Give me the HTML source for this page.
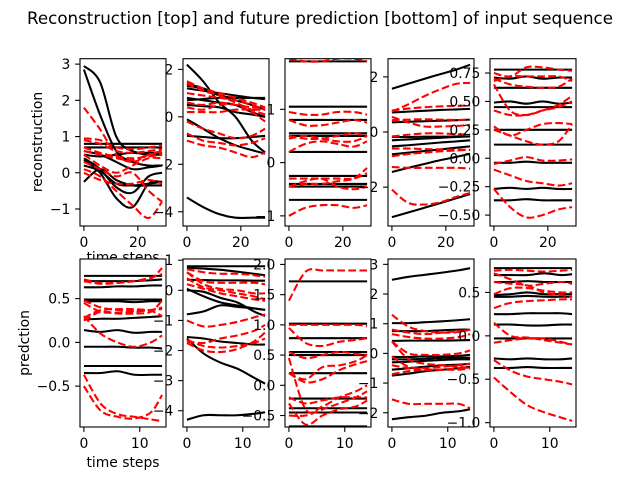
<!DOCTYPE html>
<html><head><meta charset="utf-8"><style>
body{margin:0;background:#fff}
svg{display:block;font-family:"DejaVu Sans","Liberation Sans",sans-serif}
</style></head><body>
<svg id="fig" width="640" height="480" viewBox="0 0 640 480" xmlns="http://www.w3.org/2000/svg">
<rect width="640" height="480" fill="#fff"/>
<text x="320" y="24" text-anchor="middle" font-size="16.7">Reconstruction [top] and future prediction [bottom] of input sequence</text>
<text transform="translate(42,142) rotate(-90)" text-anchor="middle" font-size="13.9">reconstruction</text>
<text transform="translate(29,343) rotate(-90)" text-anchor="middle" font-size="13.9">predction</text>
<text x="123" y="262" text-anchor="middle" font-size="13.9">time steps</text>
<text x="123" y="467" text-anchor="middle" font-size="13.9">time steps</text>
</svg>
<script>
const topSteps = [0, 6, 12, 18, 24, 29];
const botSteps = [0, 3, 6, 9, 12, 14];

const t1Black = [[2.95,2.5,1.0,0.6,0.55,0.55],[2.85,1.6,0.6,0.3,0.2,0.2],[0.8,0.8,0.8,0.8,0.8,0.8],[0.7,0.7,0.7,0.7,0.7,0.7],[0.4,0.1,-0.4,-0.55,-0.1,0.0],[0.35,0.0,-0.7,-0.95,-0.3,-0.25],[-0.25,0.1,-0.2,-0.35,-0.35,-0.35],[0.2,0.05,-0.3,-0.35,-0.3,-0.25],[0.6,0.5,0.3,0.1,0.15,0.2],[0.5,0.45,0.5,0.55,0.5,0.5]];
const t1Red = [[1.8,1.2,0.5,0.3,0.5,0.6],[0.95,0.9,0.7,0.65,0.7,0.75],[0.9,0.8,0.6,0.55,0.6,0.65],[0.6,0.5,0.4,0.35,0.5,0.55],[0.5,0.2,0.0,0.2,0.4,0.4],[0.1,-0.1,-0.5,-0.9,-1.25,-0.8],[0.0,-0.2,-0.3,-0.3,-0.2,-0.3],[0.3,0.1,-0.1,0.0,-0.5,-0.8],[0.7,0.55,0.45,0.4,0.45,0.5]];
const t2Black = [[2.2,1.5,0.6,0.0,-1.0,-1.5],[1.4,1.2,0.9,0.8,0.8,0.75],[1.2,1.1,1.0,0.9,0.8,0.75],[0.7,0.75,0.8,0.8,0.8,0.8],[0.5,0.45,0.4,0.2,0.1,0.0],[-0.1,-0.5,-0.9,-1.2,-1.4,-1.55],[-0.8,-0.85,-0.9,-0.9,-0.85,-0.8],[-3.4,-3.8,-4.1,-4.25,-4.25,-4.25],[0.8,0.7,0.6,0.5,0.2,0.0],[1.3,1.2,0.9,0.7,0.5,0.3]];
const t2Red = [[1.5,1.2,1.0,0.8,0.6,0.4],[1.4,1.1,0.9,0.6,0.3,0.1],[0.6,0.5,0.6,0.5,0.4,0.4],[0.4,0.3,0.5,0.5,0.2,-0.2],[0.2,0.2,0.2,0.3,0.3,0.3],[-0.2,-0.5,-0.7,-0.9,-0.8,-0.5],[-0.7,-1.0,-1.1,-1.2,-1.1,-0.9],[-1.0,-1.2,-1.3,-1.5,-1.7,-1.5],[1.0,0.9,0.8,0.7,0.5,0.3]];
const t3Black = [[1.9,1.9,1.9,1.9,1.9,1.9],[1.05,1.05,1.05,1.05,1.05,1.05],[0.8,0.8,0.8,0.8,0.8,0.8],[0.55,0.55,0.55,0.55,0.55,0.55],[0.5,0.5,0.5,0.5,0.5,0.5],[0.2,0.2,0.2,0.2,0.2,0.2],[-0.25,-0.25,-0.25,-0.25,-0.25,-0.25],[-0.4,-0.4,-0.4,-0.4,-0.4,-0.4],[-0.45,-0.45,-0.45,-0.45,-0.45,-0.45],[-0.7,-0.7,-0.7,-0.7,-0.7,-0.7]];
const t3Red = [[1.95,1.9,1.9,1.95,1.95,1.9],[0.95,0.9,0.9,0.95,0.95,0.9],[0.8,0.7,0.7,0.75,0.8,0.75],[0.45,0.5,0.45,0.4,0.4,0.5],[0.2,0.35,0.4,0.35,0.3,0.4],[-0.3,-0.3,-0.3,-0.3,-0.3,-0.2],[-0.45,-0.35,-0.3,-0.45,-0.5,-0.45],[-1.0,-0.85,-0.8,-0.8,-0.85,-0.8],[-0.45,-0.4,-0.4,-0.35,-0.3,-0.1],[0.5,0.45,0.45,0.5,0.55,0.5]];
const t4Black = [[1.57,1.75,1.93,2.1,2.27,2.44],[0.71,0.74,0.77,0.8,0.82,0.84],[0.35,0.37,0.39,0.41,0.43,0.45],[-0.18,-0.18,-0.17,-0.17,-0.16,-0.16],[-0.3,-0.27,-0.24,-0.21,-0.18,-0.16],[-0.52,-0.48,-0.43,-0.38,-0.34,-0.3],[-0.81,-0.75,-0.69,-0.63,-0.57,-0.52],[-1.45,-1.3,-1.16,-1.02,-0.9,-0.79],[-3.09,-2.92,-2.75,-2.58,-2.4,-2.25]];
const t4Red = [[0.74,1.0,1.3,1.55,1.75,1.78],[0.78,0.85,0.9,0.93,0.95,0.96],[0.55,0.35,0.2,0.2,0.22,0.26],[0.43,0.45,0.46,0.45,0.44,0.45],[-0.16,-0.1,-0.05,-0.05,-0.08,-0.1],[-0.88,-0.8,-0.75,-0.7,-0.67,-0.64],[-1.27,-1.3,-1.3,-1.3,-1.3,-1.33],[-2.09,-2.57,-2.63,-2.55,-2.35,-2.21],[-0.6,-0.6,-0.62,-0.63,-0.64,-0.65]];
const t5Black = [[0.78,0.78,0.78,0.78,0.78,0.78],[0.71,0.7,0.72,0.7,0.71,0.71],[0.62,0.62,0.62,0.62,0.62,0.62],[0.49,0.5,0.48,0.5,0.48,0.49],[0.45,0.45,0.45,0.45,0.45,0.45],[0.25,0.25,0.25,0.25,0.25,0.25],[0.12,0.12,0.12,0.12,0.12,0.12],[-0.04,-0.04,-0.03,-0.04,-0.04,-0.04],[-0.27,-0.26,-0.27,-0.26,-0.27,-0.27],[-0.37,-0.37,-0.36,-0.37,-0.37,-0.37]];
const t5Red = [[0.75,0.72,0.8,0.8,0.78,0.77],[0.7,0.65,0.63,0.62,0.63,0.7],[0.68,0.72,0.72,0.72,0.72,0.68],[0.65,0.42,0.38,0.42,0.47,0.55],[0.42,0.38,0.38,0.42,0.45,0.5],[0.28,0.2,0.25,0.3,0.31,0.3],[0.25,0.2,0.15,0.12,0.15,0.3],[-0.05,-0.02,0.01,-0.02,-0.02,-0.01],[-0.1,-0.15,-0.2,-0.22,-0.24,-0.22],[-0.27,-0.43,-0.52,-0.5,-0.45,-0.43]];

const b1Black = [[0.76,0.76,0.76,0.76,0.76,0.76],[0.7,0.7,0.7,0.7,0.71,0.72],[0.63,0.63,0.64,0.64,0.65,0.65],[0.49,0.49,0.49,0.49,0.49,0.49],[0.47,0.47,0.47,0.46,0.47,0.47],[0.26,0.27,0.27,0.28,0.29,0.3],[0.14,0.12,0.14,0.11,0.12,0.12],[-0.05,-0.05,-0.05,-0.06,-0.06,-0.07],[-0.27,-0.27,-0.27,-0.27,-0.27,-0.27],[-0.35,-0.35,-0.33,-0.37,-0.37,-0.37]];
const b1Red = [[0.72,0.68,0.68,0.7,0.73,0.85],[0.7,0.67,0.68,0.7,0.74,0.78],[0.48,0.4,0.37,0.36,0.37,0.4],[0.45,0.35,0.34,0.35,0.37,0.38],[0.3,0.1,0.0,-0.05,0.0,0.08],[0.25,0.35,0.33,0.33,0.35,0.48],[0.28,0.37,0.38,0.38,0.36,0.3],[-0.37,-0.7,-0.82,-0.85,-0.88,-0.9],[-0.5,-0.78,-0.85,-0.87,-0.8,-0.6]];
const b2Black = [[0.8,0.8,0.8,0.8,0.8,0.8],[0.75,0.72,0.68,0.62,0.55,0.5],[0.35,0.34,0.33,0.33,0.32,0.32],[0.05,-0.2,-0.4,-0.5,-0.6,-0.65],[0.0,-0.05,-0.25,-0.4,-0.7,-0.85],[-0.8,-0.7,-0.5,-0.55,-0.6,-0.65],[-1.55,-1.6,-1.7,-1.75,-1.8,-1.8],[-1.6,-2.1,-2.4,-2.6,-2.9,-3.1],[-4.3,-4.15,-4.15,-4.15,-4.1,-4.05]];
const b2Red = [[0.7,0.6,0.55,0.55,0.5,0.45],[0.6,0.3,0.25,0.25,0.25,0.2],[0.6,0.2,0.05,0.0,-0.1,-0.1],[0.4,0.1,0.0,-0.1,-0.2,-0.3],[0.2,0.05,-0.1,-0.2,-0.3,-0.35],[-1.0,-1.2,-1.15,-1.05,-0.9,-0.8],[-1.7,-1.75,-1.6,-1.5,-1.35,-1.15],[-1.75,-2.0,-2.05,-1.95,-1.7,-1.4],[-1.65,-1.85,-1.9,-1.85,-1.75,-1.6]];
const b3Black = [[1.72,1.72,1.72,1.72,1.72,1.72],[1.02,1.02,1.02,1.02,1.02,1.02],[0.78,0.78,0.78,0.78,0.78,0.78],[0.55,0.55,0.55,0.55,0.55,0.55],[0.5,0.5,0.5,0.5,0.5,0.5],[0.2,0.2,0.2,0.2,0.2,0.2],[-0.22,-0.22,-0.22,-0.22,-0.22,-0.22],[-0.38,-0.38,-0.38,-0.38,-0.38,-0.38],[-0.45,-0.45,-0.45,-0.45,-0.45,-0.45],[-0.68,-0.68,-0.68,-0.68,-0.68,-0.68]];
const b3Red = [[1.4,1.88,1.9,1.9,1.9,1.9],[1.0,1.0,1.0,1.0,1.0,0.98],[0.95,0.7,0.65,0.72,0.75,0.78],[0.55,0.45,0.5,0.55,0.52,0.5],[0.2,0.1,0.3,0.33,0.4,0.5],[0.2,0.05,0.1,0.25,0.35,0.4],[-0.2,-0.3,-0.25,-0.2,-0.2,-0.2],[-0.3,-0.65,-0.5,-0.4,-0.35,-0.25],[0.45,-0.4,-0.35,-0.2,-0.1,0.0],[-0.5,-0.5,-0.4,-0.3,-0.2,-0.1]];
const b4Black = [[2.48,2.58,2.65,2.72,2.8,2.87],[1.02,1.02,1.05,1.08,1.12,1.15],[0.75,0.75,0.75,0.78,0.8,0.8],[0.42,0.43,0.43,0.43,0.44,0.45],[-0.12,-0.12,-0.1,-0.1,-0.08,-0.05],[-0.2,-0.2,-0.18,-0.15,-0.15,-0.15],[-0.3,-0.28,-0.25,-0.22,-0.2,-0.2],[-0.55,-0.5,-0.45,-0.4,-0.38,-0.35],[-0.75,-0.68,-0.6,-0.55,-0.5,-0.45],[-2.22,-2.15,-2.1,-2.0,-1.95,-1.88]];
const b4Red = [[1.3,0.9,0.75,0.7,0.72,0.8],[0.8,0.7,0.65,0.7,0.75,0.8],[0.65,0.55,0.5,0.5,0.55,0.65],[0.4,0.0,-0.05,-0.05,0.0,0.1],[0.4,-0.2,-0.35,-0.4,-0.45,-0.5],[-0.1,-0.45,-0.5,-0.45,-0.4,-0.35],[-0.4,-0.5,-0.55,-0.55,-0.55,-0.5],[-0.7,-0.6,-0.55,-0.55,-0.5,-0.5],[-1.55,-1.7,-1.7,-1.7,-1.7,-1.85]];
const b5Black = [[0.78,0.78,0.78,0.78,0.78,0.78],[0.7,0.7,0.7,0.72,0.7,0.71],[0.62,0.62,0.63,0.62,0.62,0.62],[0.47,0.48,0.5,0.48,0.48,0.48],[0.45,0.45,0.46,0.45,0.45,0.45],[0.25,0.25,0.26,0.26,0.26,0.25],[0.13,0.13,0.12,0.12,0.13,0.13],[-0.03,-0.03,-0.03,-0.03,-0.03,-0.03],[-0.26,-0.27,-0.26,-0.27,-0.27,-0.26],[-0.37,-0.37,-0.36,-0.37,-0.37,-0.37]];
const b5Red = [[0.75,0.76,0.75,0.74,0.75,0.76],[0.72,0.65,0.58,0.6,0.62,0.6],[0.62,0.6,0.58,0.5,0.47,0.45],[0.48,0.55,0.55,0.52,0.5,0.5],[0.32,0.38,0.4,0.41,0.42,0.42],[0.15,0.0,-0.02,-0.05,-0.08,-0.1],[-0.08,-0.05,-0.03,-0.03,-0.07,-0.1],[-0.28,-0.4,-0.47,-0.5,-0.53,-0.56],[-0.48,-0.65,-0.8,-0.88,-0.94,-0.98]];

const topXTicks = [0, 20];
const botXTicks = [0, 10];
const yTicksT = [[-1,0,1,2,3],[-4,-2,0,2],[-1,0,1],[-2,0,2],[-0.5,-0.25,0,0.25,0.5,0.75]];
const yTicksB = [[-0.5,0,0.5],[-4,-3,-2,-1,0,1],[-0.5,0,0.5,1,1.5,2],[-2,-1,0,1,2,3],[-1,-0.5,0,0.5]];
const yDecT = [0,0,0,0,2];
const yDecB = [1,0,1,0,1];
const yLimT = [[-1.47,3.15],[-4.6,2.45],[-1.19,1.95],[-3.41,2.66],[-0.596,0.876]];
const yLimB = [[-0.967,0.953],[-4.54,1.04],[-0.69,2.09],[-2.48,3.18],[-1.05,0.885]];

const NS = "http://www.w3.org/2000/svg";
const svg = document.getElementById('fig');
const lefts = [80,183,285,388,490];
const W = 86;
function mk(tag, attrs, parent){const e=document.createElementNS(NS,tag);for(const k in attrs)e.setAttribute(k,attrs[k]);(parent||svg).appendChild(e);return e;}
function fmt(v,d){let s=v.toFixed(d);if(v<0)s='\u2212'+s.slice(1);return s;}
function smooth(pts){let d='M'+pts[0][0].toFixed(2)+','+pts[0][1].toFixed(2);
 for(let i=0;i<pts.length-1;i++){const p0=pts[Math.max(0,i-1)],p1=pts[i],p2=pts[i+1],p3=pts[Math.min(pts.length-1,i+2)];
  const c1=[p1[0]+(p2[0]-p0[0])/6,p1[1]+(p2[1]-p0[1])/6],c2=[p2[0]-(p3[0]-p1[0])/6,p2[1]-(p3[1]-p1[1])/6];
  d+=' C'+c1[0].toFixed(2)+','+c1[1].toFixed(2)+' '+c2[0].toFixed(2)+','+c2[1].toFixed(2)+' '+p2[0].toFixed(2)+','+p2[1].toFixed(2);}
 return d;}

function panel(idx,row,top,h,steps,xmax,xticks,ylim,yticks,dec,black,red){
 const L=lefts[idx];
 const xs=v=>L+(v+xmax*0.05)/(xmax*1.1)*W;
 const ys=v=>top+h-(v-ylim[0])/(ylim[1]-ylim[0])*h;
 const g=mk('g',{});
 
 
 const bg=mk('rect',{x:L,y:top,width:W,height:h,fill:'#fff'},g);
 
 
 const clip=mk('clipPath',{id:'c'+row+idx},g);
 mk('rect',{x:L,y:top,width:W,height:h},clip);
 const lg=mk('g',{'clip-path':'url(#c'+row+idx+')'},g);
 black.forEach((s,i)=>{const p=mk('path',{d:smooth(s.map((v,j)=>[xs(steps[j]),ys(v)])),fill:'none',stroke:'#000','stroke-width':2.08},lg);
  
  });
 red.forEach((s,i)=>{const p=mk('path',{d:smooth(s.map((v,j)=>[xs(steps[j]),ys(v)])),fill:'none',stroke:'#ff0000','stroke-width':2.08,'stroke-dasharray':'7.7,3.3'},lg);
  
  });
 const fr=mk('rect',{x:L,y:top,width:W,height:h,fill:'none',stroke:'#000','stroke-width':1.1},g);
 
 
 xticks.forEach(t=>{const x=xs(t);mk('line',{x1:x,x2:x,y1:top+h,y2:top+h+4.9,stroke:'#000','stroke-width':1.1},g);
  const tx=mk('text',{x:x,y:top+h+21,'text-anchor':'middle','font-size':13.9},g);tx.textContent=String(t);
  
  });
 yticks.forEach(t=>{const y=ys(t);mk('line',{x1:L,x2:L-4.9,y1:y,y2:y,stroke:'#000','stroke-width':1.1},g);
  const tx=mk('text',{x:L-9.7,y:y+5,'text-anchor':'end','font-size':13.9},g);tx.textContent=fmt(t,dec);
  
  });
}
const TB=[[t1Black,t1Red],[t2Black,t2Red],[t3Black,t3Red],[t4Black,t4Red],[t5Black,t5Red]];
const BB=[[b1Black,b1Red],[b2Black,b2Red],[b3Black,b3Red],[b4Black,b4Red],[b5Black,b5Red]];
for(let i=0;i<5;i++) panel(i,'top',58.7,167.3,topSteps,29,topXTicks,yLimT[i],yTicksT[i],yDecT[i],TB[i][0],TB[i][1]);
for(let i=0;i<5;i++) panel(i,'bottom',259,168,botSteps,14,botXTicks,yLimB[i],yTicksB[i],yDecB[i],BB[i][0],BB[i][1]);
</script>
</body></html>
